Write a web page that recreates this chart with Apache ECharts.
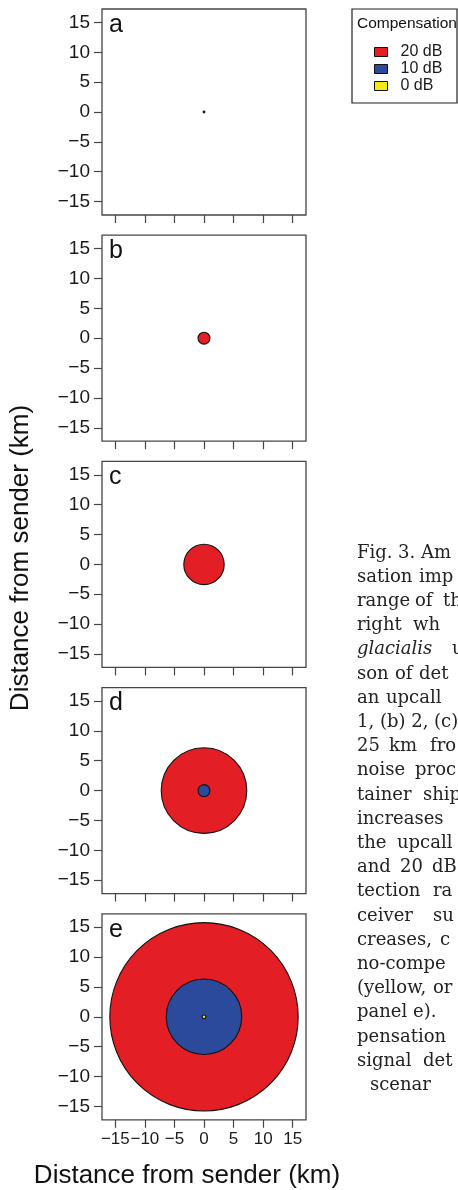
<!DOCTYPE html>
<html><head><meta charset="utf-8">
<script src="https://cdn.jsdelivr.net/npm/echarts@6/dist/echarts.min.js"></script>
<style>html,body{margin:0;padding:0;background:#fff}#c{width:458px;height:1190px}</style>
</head><body><div id="c"></div>
<script>
// ---------- data ----------
const panelLetters = ['a', 'b', 'c', 'd', 'e'];
const compensationLevels = ['20 dB', '10 dB', '0 dB'];
// detection radius (km) per panel for each compensation level
const radius20dB = [0.15, 1.0, 3.4, 7.2, 15.85];
const radius10dB = [0, 0, 0, 1.0, 6.35];
const radius0dB  = [0, 0, 0, 0, 0.3];
const tickValues = [-15, -10, -5, 0, 5, 10, 15];
const tickLabels = ['\u221215', '\u221210', '\u22125', '0', '5', '10', '15'];
const axisTitle = 'Distance from sender (km)';
const legendTitle = 'Compensation';
const captionLines = [
  ['Fig.', '3.', 'Am'],
  ['sation', 'imp'],
  ['range', 'of', 'th'],
  ['right', 'wh'],
  ['glacialis', 'u'],
  ['son', 'of', 'det'],
  ['an', 'upcall'],
  ['1, (b) 2, (c)'],
  ['25', 'km', 'fro'],
  ['noise', 'proc'],
  ['tainer', 'ship'],
  ['increases'],
  ['the', 'upcall'],
  ['and', '20', 'dB'],
  ['tection', 'ra'],
  ['ceiver', 'su'],
  ['creases,', 'c'],
  ['no-compe'],
  ['(yellow,', 'or'],
  ['panel', 'e).'],
  ['pensation'],
  ['signal', 'det'],
  ['scenar']
];
const italicWords = ['glacialis'];

// ---------- layout ----------
const captionWordX = [
  [357, 398, 421], [357, 419], [357, 415, 443], [357, 413], [357, 452],
  [357, 395, 419], [357, 386], [357], [357, 389, 430],
  [357, 415], [357, 423], [357], [357, 397], [357, 400, 432], [357, 433],
  [357, 433], [357, 440], [357], [357, 433], [357, 413], [357], [357, 423], [370]
];
const colors = ['#e31e24', '#2b4a9c', '#f4e818'];
const radii = [radius20dB, radius10dB, radius0dB];
const SANS = '"Liberation Sans", Arial, sans-serif';
const SERIF = '"DejaVu Serif", serif';
const gridLeft = 102, gridW = 204, gridH = 206, gridTop0 = 9, gridStep = 226.2;
const AX = 17.25;
const darkGrey = '#454545';

const chart = echarts.init(document.getElementById('c'), null, {renderer: 'canvas'});

const fmt = v => {
  const i = tickValues.indexOf(Math.round(v));
  return i >= 0 ? tickLabels[i] : '';
};

const grids = [], xAxes = [], yAxes = [], series = [], graphics = [];
panelLetters.forEach((letter, i) => {
  const top = gridTop0 + i * gridStep;
  grids.push({left: gridLeft, top: top, width: gridW, height: gridH, show: true,
    borderColor: darkGrey, borderWidth: 1.3, backgroundColor: 'transparent'});
  xAxes.push({type: 'value', gridIndex: i, min: -AX, max: AX, position: 'bottom',
    axisLine: {show: false, onZero: false}, splitLine: {show: false},
    axisTick: {show: true, customValues: tickValues, length: 8, lineStyle: {color: darkGrey, width: 1.2}},
    axisLabel: {show: i === panelLetters.length - 1, customValues: tickValues, formatter: fmt,
      fontSize: 17, fontFamily: SANS, color: '#1a1a1a', margin: 11}});
  yAxes.push({type: 'value', gridIndex: i, min: -AX, max: AX, position: 'left',
    axisLine: {show: false, onZero: false}, splitLine: {show: false},
    axisTick: {show: true, customValues: tickValues, length: 8, lineStyle: {color: darkGrey, width: 1.2}},
    axisLabel: {show: true, customValues: tickValues, formatter: fmt,
      fontSize: 19, fontFamily: SANS, color: '#1a1a1a', margin: 12}});
  compensationLevels.forEach((lvl, j) => {
    const r = radii[j][i];
    if (!r) return;
    series.push({
      type: 'custom', name: lvl, xAxisIndex: i, yAxisIndex: i, z: 2 + j,
      itemStyle: {color: colors[j], borderColor: '#111', borderWidth: 1},
      data: [[0, 0, r]],
      renderItem: (params, api) => {
        const c = api.coord([api.value(0), api.value(1)]);
        const s = api.size([api.value(2), api.value(2)]);
        return {type: 'circle', shape: {cx: c[0], cy: c[1], r: (s[0] + s[1]) / 2},
          style: {fill: colors[j], stroke: '#111', lineWidth: 1.1}};
      }
    });
  });
  graphics.push({type: 'text', x: 109, y: top + 16,
    style: {text: letter, font: '25px ' + SANS, fill: '#111', align: 'left', verticalAlign: 'middle'}});
});

// axis titles
graphics.push({type: 'text', x: 187, y: 1176,
  style: {text: axisTitle, font: '26px ' + SANS, fill: '#111', align: 'center', verticalAlign: 'middle'}});
graphics.push({type: 'text', x: 21, y: 558, rotation: Math.PI / 2,
  style: {text: axisTitle, font: '26px ' + SANS, fill: '#111', align: 'center', verticalAlign: 'middle'}});

// legend frame & title
graphics.push({type: 'rect', shape: {x: 352, y: 9, width: 105, height: 94},
  style: {fill: '#fff', stroke: '#222', lineWidth: 1.2}, z: 0});
graphics.push({type: 'text', x: 357, y: 24,
  style: {text: legendTitle, font: '15.5px ' + SANS, fill: '#111', align: 'left', verticalAlign: 'middle'}});

// caption
captionLines.forEach((words, k) => {
  const y = 553 + k * 24.2;
  words.forEach((w, m) => {
    graphics.push({type: 'text', x: captionWordX[k][m], y: y,
      style: {text: w, font: (italicWords.includes(w) ? 'italic ' : '') + '18px ' + SERIF,
        fill: '#222', align: 'left', verticalAlign: 'middle'}});
  });
});

chart.setOption({
  animation: false,
  backgroundColor: '#fff',
  grid: grids, xAxis: xAxes, yAxis: yAxes, series: series,
  legend: {data: compensationLevels, orient: 'vertical', left: 369, top: 39,
    itemWidth: 13, itemHeight: 9, itemGap: 1, icon: 'rect', selectedMode: false,
    itemStyle: {borderColor: '#111', borderWidth: 1},
    textStyle: {fontSize: 16, fontFamily: SANS, color: '#1a1a1a', padding: [0, 0, 0, 8], lineHeight: 16}},
  graphic: {elements: graphics}
});
</script></body></html>
